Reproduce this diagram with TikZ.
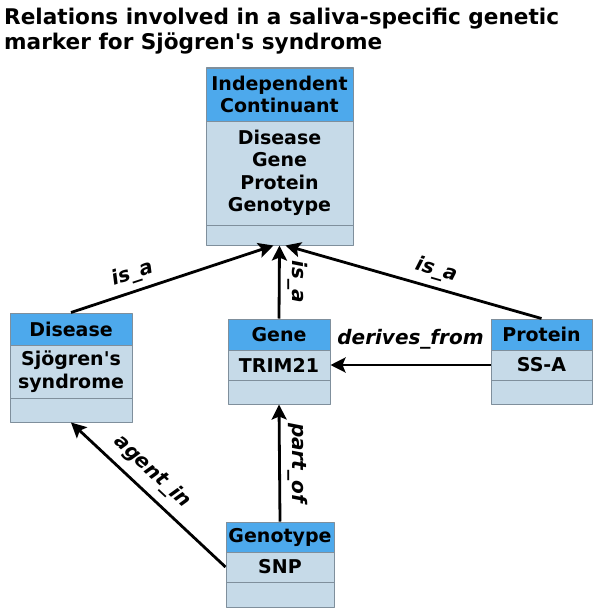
\documentclass[tikz,border=0pt]{standalone}
\usepackage{fontspec}
\setmainfont{DejaVu Sans}
\usetikzlibrary{arrows.meta}
\definecolor{headblue}{HTML}{4DA9EC}
\definecolor{bodyblue}{HTML}{C6DAE8}
\definecolor{edgegray}{HTML}{7F8F9C}
\begin{document}
\begin{tikzpicture}[x=1pt,y=-1pt,line join=round,>={Stealth[length=15pt,width=15pt,inset=3pt]},
	box/.style={draw=edgegray,line width=1pt,inner sep=0pt,align=center,font=\fontsize{19}{22.5}\selectfont\bfseries},
	head/.style={box,fill=headblue},
	body/.style={box,fill=bodyblue},
	rel/.style={->,line width=2.8pt},
	lbl/.style={font=\fontsize{20}{22}\selectfont\bfseries\itshape,inner sep=1pt}]
	\useasboundingbox (0,0) rectangle (596,610);
	\node[anchor=north west,align=left,inner sep=0pt,font=\fontsize{21.6}{25}\selectfont\bfseries] (title) at (4,8)
	{Relations involved in a saliva-specific genetic\\marker for Sjögren\textquotesingle s syndrome};
	% Independent Continuant
	\node[head,minimum width=147,minimum height=53] (ic-head) at (279.5,94.5) {Independent\\Continuant};
	\node[body,minimum width=147,minimum height=104] (ic-body) at (279.5,173) {Disease\\Gene\\Protein\\Genotype};
	\node[body,minimum width=147,minimum height=20] (ic-foot) at (279.5,235) {};
	% Disease
	\node[head,minimum width=122,minimum height=32] (dis-head) at (71,329) {Disease};
	\node[body,minimum width=122,minimum height=53] (dis-body) at (71,371.5) {Sjögren\textquotesingle s\\syndrome};
	\node[body,minimum width=122,minimum height=24] (dis-foot) at (71,410) {};
	% Gene
	\node[head,minimum width=102,minimum height=31] (gene-head) at (279,334.5) {Gene};
	\node[body,minimum width=102,minimum height=30] (gene-body) at (279,365) {TRIM21};
	\node[body,minimum width=102,minimum height=24] (gene-foot) at (279,392) {};
	% Protein
	\node[head,minimum width=101,minimum height=31] (prot-head) at (541.5,334.5) {Protein};
	\node[body,minimum width=101,minimum height=30] (prot-body) at (541.5,365) {SS-A};
	\node[body,minimum width=101,minimum height=24] (prot-foot) at (541.5,392) {};
	% Genotype
	\node[head,minimum width=108,minimum height=30] (gt-head) at (280,537) {Genotype};
	\node[body,minimum width=108,minimum height=30] (gt-body) at (280,567) {SNP};
	\node[body,minimum width=108,minimum height=25] (gt-foot) at (280,594.5) {};
	% relations
	\draw[rel] (dis-head.north) -- ([xshift=-6pt]ic-foot.south) node[lbl,pos=0.33,sloped,above=5pt]{is\_a};
	\draw[rel] (gene-head.north) -- (ic-foot.south) node[lbl,midway,rotate=-90,anchor=south,inner ysep=7pt]{is\_a};
	\draw[rel] (prot-head.north) -- ([xshift=6pt]ic-foot.south) node[lbl,pos=0.43,sloped,above=5pt]{is\_a};
	\draw[rel] (prot-body.west) -- (gene-body.east) node[lbl,midway,above=13pt]{derives\_from};
	\draw[rel] (gt-head.north) -- (gene-foot.south) node[lbl,midway,rotate=-90,anchor=south,inner ysep=7pt]{part\_of};
	\draw[rel] (gt-body.west) -- (dis-foot.south) node[lbl,pos=0.56,sloped,above=7pt]{agent\_in};
\end{tikzpicture}
\end{document}
